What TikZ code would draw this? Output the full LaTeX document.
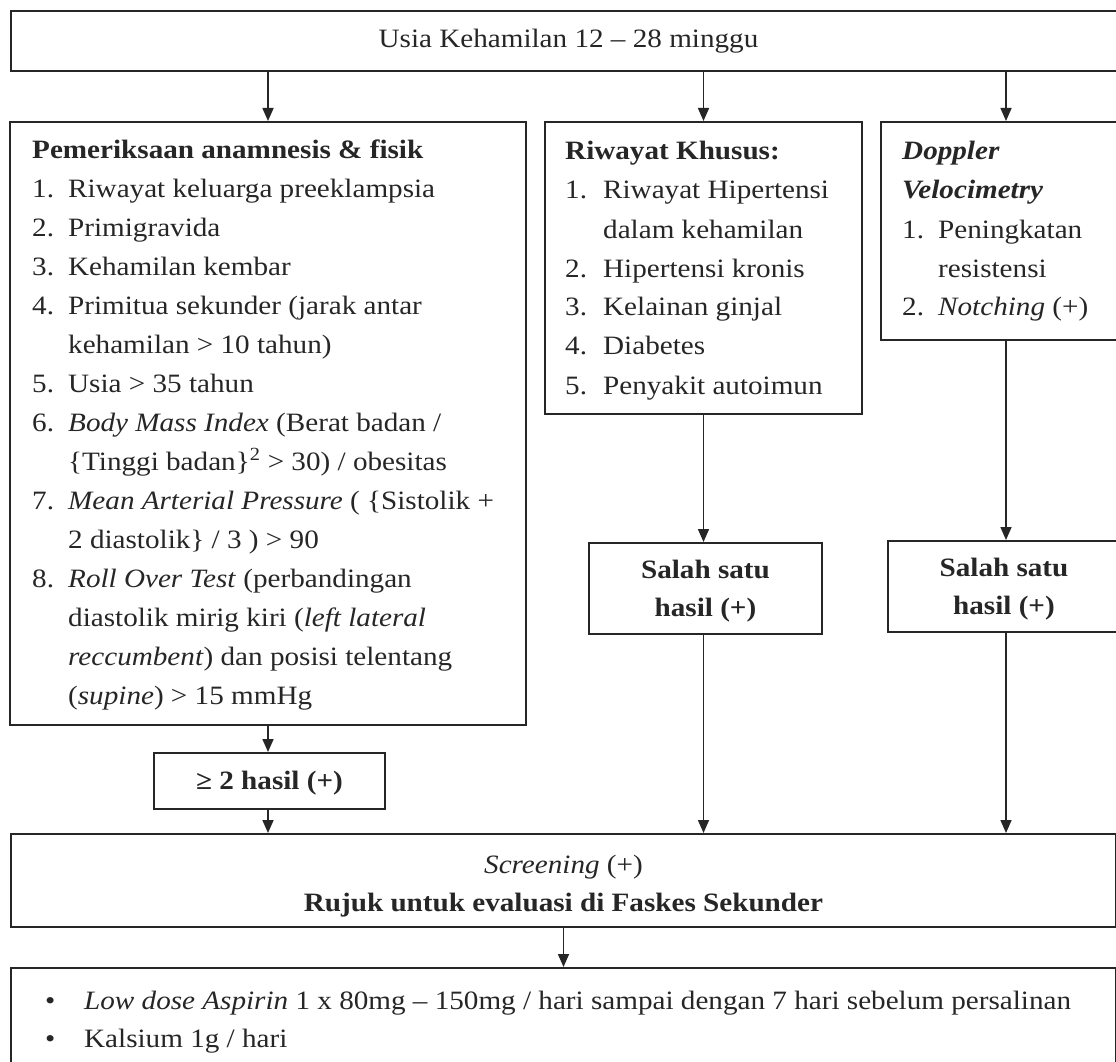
\documentclass[tikz,border=0pt]{standalone}
\usepackage{fontspec}
\setmainfont[FakeStretch=1.1]{Liberation Serif}
\usetikzlibrary{arrows.meta}
\definecolor{ink}{HTML}{262626}
\newlength\numw
\newcommand\itm[2]{\hbox{\makebox[\numw][l]{#1}#2}}
\newcommand\cnt[1]{\hbox{\hspace*{\numw}#1}}
\newcommand\hd[1]{\hbox{#1}}
\begin{document}
\begin{tikzpicture}[x=1pt,y=-1pt,
  box/.style={draw=ink,line width=2pt,rectangle,inner sep=0pt,anchor=north west},
  arr/.style={draw=ink,line width=1.6pt,-{Triangle[length=13pt,width=11pt]}},
  txt/.style={text=ink,inner sep=0pt,font=\fontsize{26.5}{39}\selectfont},
  lst/.style={txt,anchor=base west}]
\useasboundingbox (0,0) rectangle (1116,1062);
\clip (0,0) rectangle (1116,1062);
\fill[white] (0,0) rectangle (1116,1062);
% boxes
\node[box,minimum width=1115pt,minimum height=60pt] (top) at (10,10) {};
\node[box,minimum width=516pt,minimum height=603pt] (left) at (9,121) {};
\node[box,minimum width=317pt,minimum height=292pt] (mid) at (544,121) {};
\node[box,minimum width=250pt,minimum height=218pt] (dop) at (880,121) {};
\node[box,minimum width=233pt,minimum height=91pt] (s1) at (588,542) {};
\node[box,minimum width=240pt,minimum height=91pt] (s2) at (887,540) {};
\node[box,minimum width=231pt,minimum height=56pt] (ge) at (153,752) {};
\node[box,minimum width=1105pt,minimum height=93pt] (scr) at (10,833) {};
\node[box,minimum width=1105pt,minimum height=130pt] (bot) at (10,967) {};
% texts
\node[txt] (ttop) at (top.center) {Usia Kehamilan 12 -- 28 minggu};
\node[lst] (tleft) at (32,158) {\setlength\numw{36pt}\vtop{\baselineskip=39pt
  \hd{\textbf{Pemeriksaan anamnesis \& fisik}}
  \itm{1.}{Riwayat keluarga preeklampsia}
  \itm{2.}{Primigravida}
  \itm{3.}{Kehamilan kembar}
  \itm{4.}{Primitua sekunder (jarak antar}
  \cnt{kehamilan > 10 tahun)}
  \itm{5.}{Usia > 35 tahun}
  \itm{6.}{\textit{Body Mass Index} (Berat badan /}
  \cnt{\{Tinggi badan\}\textsuperscript{2} > 30) / obesitas}
  \itm{7.}{\textit{Mean Arterial Pressure} ( \{Sistolik +}
  \cnt{2 diastolik\} / 3 ) > 90}
  \itm{8.}{\textit{Roll Over Test} (perbandingan}
  \cnt{diastolik mirig kiri (\textit{left lateral}}
  \cnt{\textit{reccumbent}) dan posisi telentang}
  \cnt{(\textit{supine}) > 15 mmHg}}};
\node[lst] (tmid) at (565,160) {\setlength\numw{38pt}\vtop{\baselineskip=39pt
  \hd{\textbf{Riwayat Khusus:}}
  \itm{1.}{Riwayat Hipertensi}
  \cnt{dalam kehamilan}
  \itm{2.}{Hipertensi kronis}
  \itm{3.}{Kelainan ginjal}
  \itm{4.}{Diabetes}
  \itm{5.}{Penyakit autoimun}}};
\node[lst] (tdop) at (902,160) {\setlength\numw{36pt}\vtop{\baselineskip=39pt
  \hd{\textbf{\textit{Doppler}}}
  \hd{\textbf{\textit{Velocimetry}}}
  \itm{1.}{Peningkatan}
  \cnt{resistensi}
  \itm{2.}{\textit{Notching} (+)}}};
\node[txt,align=center,font=\fontsize{26.5}{38}\selectfont\bfseries] (ts1) at ([yshift=-3pt]s1.center) {Salah satu\\hasil (+)};
\node[txt,align=center,font=\fontsize{26.5}{38}\selectfont\bfseries] (ts2) at ([xshift=-4pt,yshift=-3pt]s2.center) {Salah satu\\hasil (+)};
\node[txt,font=\fontsize{26.5}{38}\selectfont\bfseries] (tge) at ([yshift=-2pt]ge.center) {≥ 2 hasil (+)};
\node[txt,align=center,font=\fontsize{26.5}{38}\selectfont] (tscr) at ([yshift=-5.5pt]scr.center) {\textit{Screening} (+)\\\textbf{Rujuk untuk evaluasi di Faskes Sekunder}};
\node[lst] (tbot) at (45,1009) {\setlength\numw{39pt}\vtop{\baselineskip=38pt
  \itm{•}{\textit{Low dose Aspirin} 1 x 80mg -- 150mg / hari sampai dengan 7 hari sebelum persalinan}
  \itm{•}{Kalsium 1g / hari}}};
% connectors
\draw[arr] (top.south -| left.north) -- (left.north);
\draw[arr] (top.south -| mid.north) -- (mid.north);
\draw[arr] (top.south -| dop.north) -- (dop.north);
\draw[arr] (mid.south) -- (mid.south |- s1.north);
\draw[arr] (dop.south) -- (dop.south |- s2.north);
\draw[arr] (left.south) -- (left.south |- ge.north);
\draw[arr] (ge.south -| left.south) -- (left.south |- scr.north);
\draw[arr] (s1.south -| mid.south) -- (mid.south |- scr.north);
\draw[arr] (s2.south -| dop.south) -- (dop.south |- scr.north);
\draw[arr] (scr.south) -- (scr.south |- bot.north);
\end{tikzpicture}
\end{document}
